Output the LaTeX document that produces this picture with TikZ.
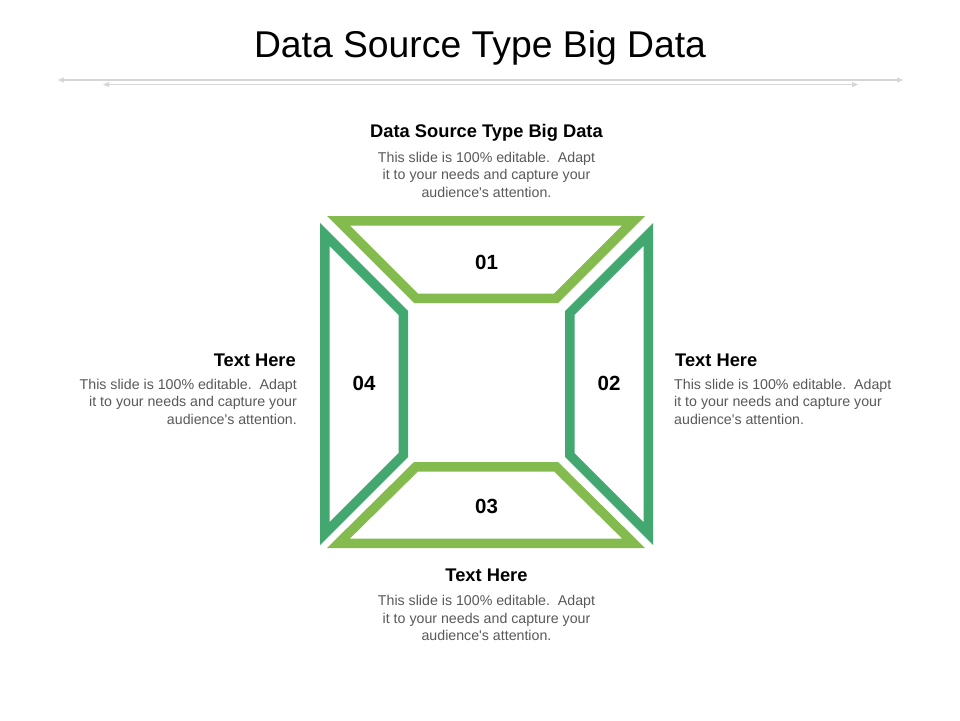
\documentclass[tikz,border=0pt]{standalone}
\usepackage{fontspec}
\setmainfont{Liberation Sans}
\usetikzlibrary{arrows.meta}
\definecolor{lgreen}{HTML}{84BB4F}
\definecolor{dgreen}{HTML}{43A86F}
\definecolor{bodygray}{HTML}{595959}
\definecolor{rulegray}{HTML}{D6D6D6}
\tikzset{
  band/.style={even odd rule, draw=none},
  titletxt/.style={anchor=base, inner sep=0pt, font=\fontsize{37.3}{40}\selectfont, text=black},
  headtxt/.style={inner sep=0pt, font=\fontsize{18.3}{20}\selectfont\bfseries, text=black},
  bodytxt/.style={inner sep=0pt, font=\fontsize{14.2}{17}\selectfont, text=bodygray},
  numtxt/.style={inner sep=0pt, font=\fontsize{20.5}{24}\selectfont\bfseries, text=black},
  ruleline/.style={draw=rulegray, line width=1.1pt, -{Triangle[length=6pt,width=5pt]}},
}
\begin{document}
\begin{tikzpicture}[x=1pt,y=-1pt]
\useasboundingbox (0,0) rectangle (960,720);
\fill[white] (0,0) rectangle (960,720);

% title
\node[titletxt] (title) at (480,57) {Data Source Type Big Data};

% decorative rules
\coordinate (r1l) at (58,80);
\coordinate (r1r) at (903,80);
\coordinate (r1m) at (480,80);
\coordinate (r2l) at (103,84.5);
\coordinate (r2r) at (858,84.5);
\coordinate (r2m) at (480,84.5);
\draw[ruleline] (r1m) -- (r1l);
\draw[ruleline] (r1m) -- (r1r);
\draw[ruleline] (r2m) -- (r2l);
\draw[ruleline] (r2m) -- (r2r);

% top band (01)
\fill[lgreen, band] (327,216) -- (645,216) -- (558,303) -- (414,303) -- cycle
  (349.9,225.5) -- (622.1,225.5) -- (554.1,293.5) -- (417.9,293.5) -- cycle;
% bottom band (03)
\fill[lgreen, band] (327,548) -- (645,548) -- (558,462) -- (414,462) -- cycle
  (349.9,538.5) -- (622.1,538.5) -- (554.1,471.5) -- (417.9,471.5) -- cycle;
% left band (04)
\fill[dgreen, band] (320,223) -- (408,311) -- (408,457) -- (320,545) -- cycle
  (329.5,245.9) -- (398.5,314.9) -- (398.5,453.1) -- (329.5,522.1) -- cycle;
% right band (02)
\fill[dgreen, band] (653,223) -- (565,311) -- (565,457) -- (653,545) -- cycle
  (643.5,245.9) -- (574.5,314.9) -- (574.5,453.1) -- (643.5,522.1) -- cycle;

% numbers
\node[numtxt] (n01) at (486.5,262) {01};
\node[numtxt] (n02) at (609,383) {02};
\node[numtxt] (n03) at (486.5,506) {03};
\node[numtxt] (n04) at (364,383) {04};

% top text
\node[headtxt, anchor=base] (h1) at (486.5,137) {Data Source Type Big Data};
\node[bodytxt, anchor=base] (b1a) at (486.5,162) {This slide is 100\% editable.\ \ Adapt};
\node[bodytxt, anchor=base] (b1b) at (486.5,179.5) {it to your needs and capture your};
\node[bodytxt, anchor=base] (b1c) at (486.5,197) {audience\textquotesingle s attention.};

% left text
\node[headtxt, anchor=base east] (h4) at (296,366) {Text Here};
\node[bodytxt, anchor=base east] (b4a) at (297,389) {This slide is 100\% editable.\ \ Adapt};
\node[bodytxt, anchor=base east] (b4b) at (297,406.5) {it to your needs and capture your};
\node[bodytxt, anchor=base east] (b4c) at (297,424) {audience\textquotesingle s attention.};

% right text
\node[headtxt, anchor=base west] (h2) at (675,366) {Text Here};
\node[bodytxt, anchor=base west] (b2a) at (674,389) {This slide is 100\% editable.\ \ Adapt};
\node[bodytxt, anchor=base west] (b2b) at (674,406.5) {it to your needs and capture your};
\node[bodytxt, anchor=base west] (b2c) at (674,424) {audience\textquotesingle s attention.};

% bottom text
\node[headtxt, anchor=base] (h3) at (486.5,581) {Text Here};
\node[bodytxt, anchor=base] (b3a) at (486.5,605.5) {This slide is 100\% editable.\ \ Adapt};
\node[bodytxt, anchor=base] (b3b) at (486.5,623) {it to your needs and capture your};
\node[bodytxt, anchor=base] (b3c) at (486.5,640.5) {audience\textquotesingle s attention.};
\end{tikzpicture}
\end{document}
